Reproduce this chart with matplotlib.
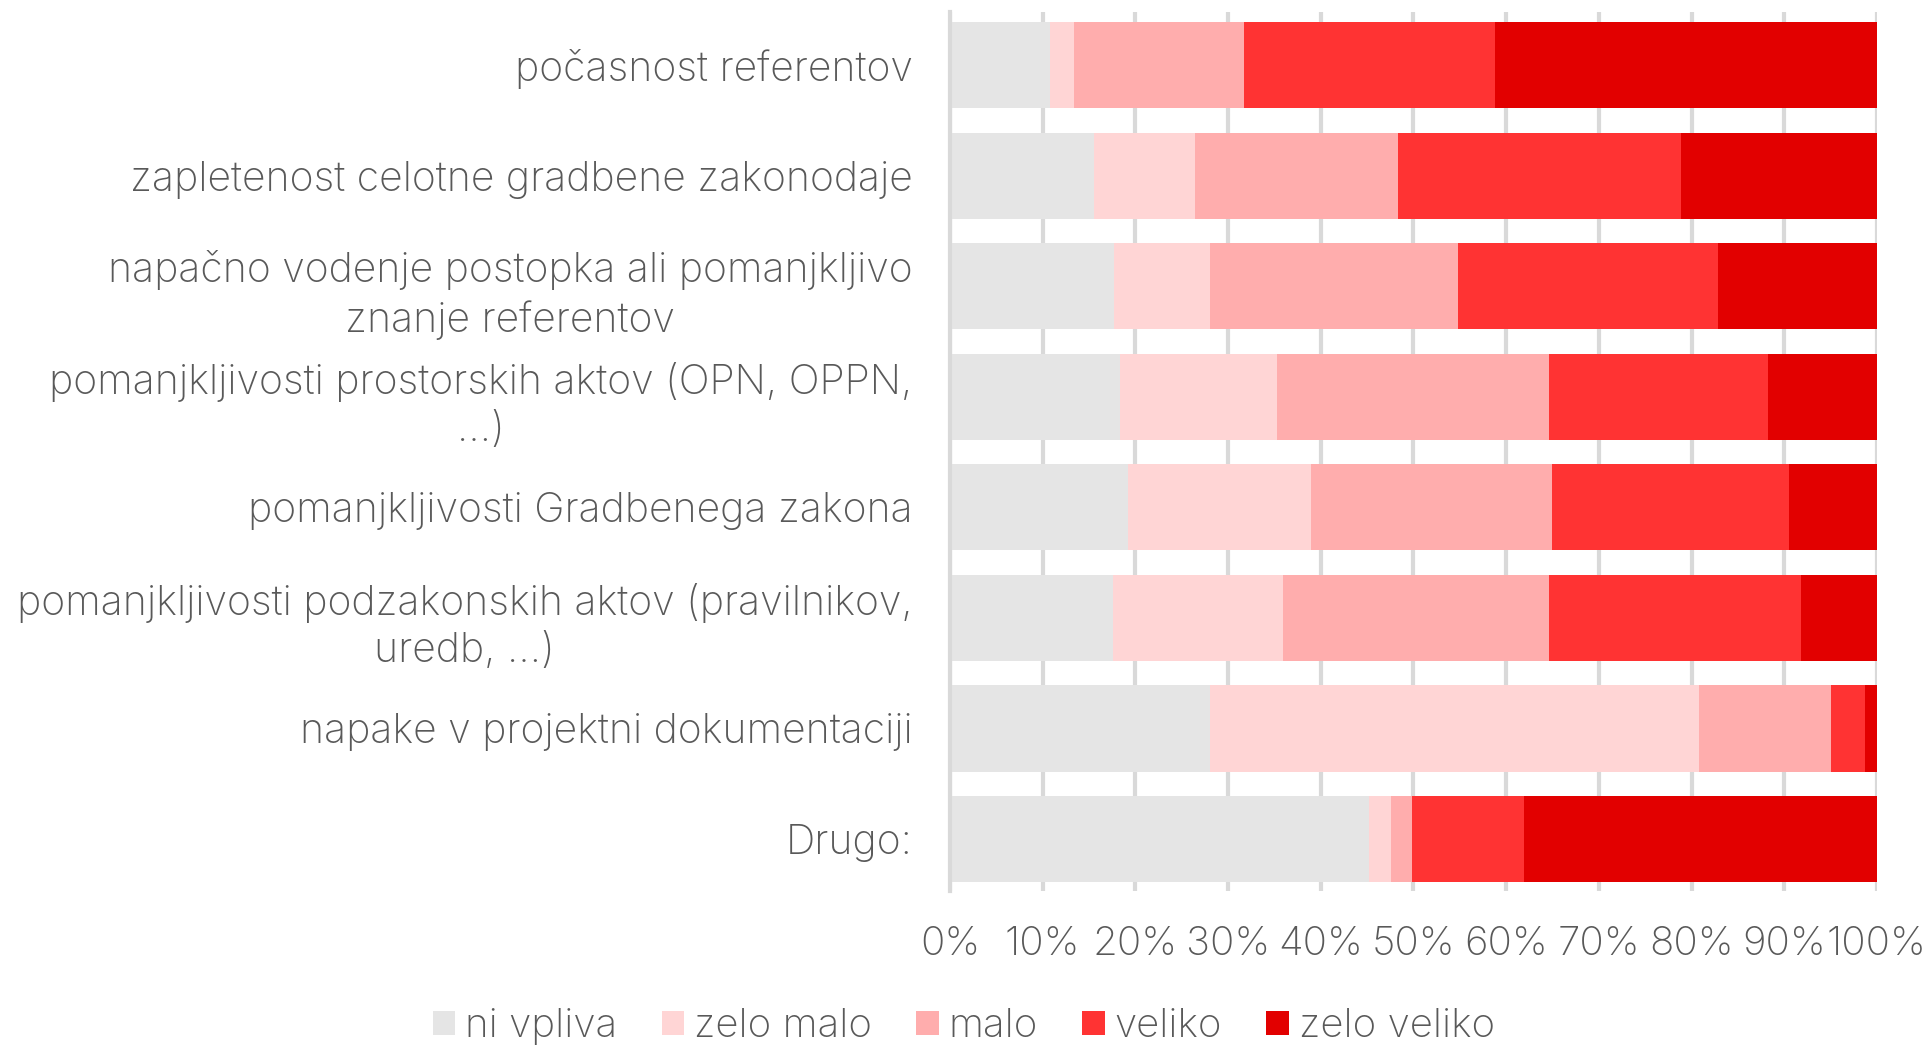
import matplotlib.pyplot as plt
import numpy as np

categories = [
    "počasnost referentov",
    "zapletenost celotne gradbene zakonodaje",
    "napačno vodenje postopka ali pomanjkljivo\nznanje referentov",
    "pomanjkljivosti prostorskih aktov (OPN, OPPN,\n...)",
    "pomanjkljivosti Gradbenega zakona",
    "pomanjkljivosti podzakonskih aktov (pravilnikov,\nuredb, ...)",
    "napake v projektni dokumentaciji",
    "Drugo:",
]
series_names = ["ni vpliva", "zelo malo", "malo", "veliko", "zelo veliko"]
ni_vpliva = [10.8, 15.5, 17.7, 18.3, 19.2, 17.6, 28.1, 45.2]
zelo_malo = [2.6, 10.9, 10.4, 17.0, 19.8, 18.3, 52.7, 2.4]
malo = [18.3, 21.9, 26.7, 29.3, 26.0, 28.7, 14.3, 2.3]
veliko = [27.1, 30.6, 28.1, 23.7, 25.5, 27.2, 3.6, 12.0]
zelo_veliko = [41.2, 21.1, 17.1, 11.7, 9.5, 8.2, 1.3, 38.1]
colors = ["#E5E5E5", "#FFD5D5", "#FFADAD", "#FF3333", "#E20000"]

plt.rcParams['font.family'] = ['Inter', 'DejaVu Sans']
plt.rcParams['font.weight'] = 'light'
txt_color = "#595959"

fig = plt.figure(figsize=(19.28, 10.45), dpi=100)
ax = fig.add_axes([0.4927, 0.1474, 0.4808, 0.8411])

y = np.arange(len(categories))
left = np.zeros(len(categories))
for name, vals, c in zip(series_names, [ni_vpliva, zelo_malo, malo, veliko, zelo_veliko], colors):
    vals = np.array(vals)
    ax.barh(y, vals, left=left, height=0.78, color=c, label=name, zorder=2)
    left += vals

ax.set_xlim(0, 100)
ax.set_ylim(7.47, -0.48)
ax.set_xticks(np.arange(0, 101, 10))
ax.set_xticklabels([f"{v}%" for v in range(0, 101, 10)], fontsize=29, color=txt_color)
ax.set_yticks(y)
ax.set_yticklabels(categories, fontsize=29.5, color=txt_color,
                   multialignment='center', linespacing=1.3)
ax.tick_params(length=0, pad=27, axis='y')
ax.tick_params(length=0, pad=25, axis='x')
ax.grid(axis='x', color="#D9D9D9", linewidth=3, zorder=0)
for s in ['top', 'right', 'bottom']:
    ax.spines[s].set_visible(False)
ax.spines['left'].set_color("#D9D9D9")
ax.spines['left'].set_linewidth(3)

fig.legend(loc='lower center', bbox_to_anchor=(0.5, -0.035), ncol=5, frameon=False,
           fontsize=29, handlelength=0.55, handleheight=0.55, handletextpad=0.25,
           columnspacing=1.1, labelcolor=txt_color)

fig.savefig("out.png", dpi=100)
